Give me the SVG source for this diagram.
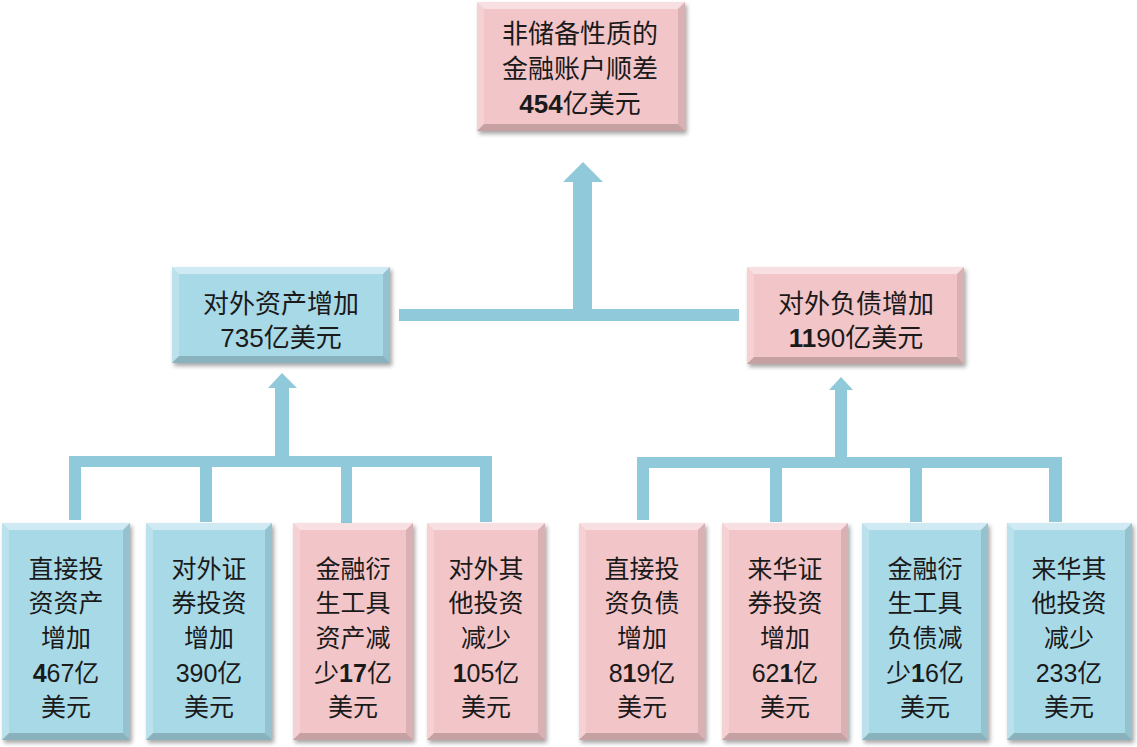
<svg xmlns="http://www.w3.org/2000/svg" width="1137" height="747" viewBox="0 0 1137 747">
<defs>
<filter id="sh" x="-10%" y="-10%" width="130%" height="130%">
<feDropShadow dx="2" dy="3" stdDeviation="2" flood-color="#000" flood-opacity="0.35"/>
</filter>
<style>
.blue{fill:#a8d9e7}
.pink{fill:#f2c5c8}
.hl{fill:#fff;fill-opacity:0.45}
.hs{fill:#fff;fill-opacity:0.22}
.dr{fill:#000;fill-opacity:0.10}
.db{fill:#000;fill-opacity:0.18}
.c{fill:#8fc9da}
text{font-family:"Liberation Sans","Noto Sans CJK SC",sans-serif;fill:#1a1a1a;text-anchor:middle}
.t26{font-size:26px}
.t25{font-size:25px}
.b{font-weight:bold}
</style>
</defs>
<rect width="1137" height="747" fill="#fff"/>

<g id="connectors">
<!-- top tree -->
<rect class="c" x="399" y="309" width="340" height="12"/>
<rect class="c" x="573" y="180" width="19" height="135"/>
<polygon class="c" points="563,182 583,162 603,182"/>
<!-- left tree -->
<rect class="c" x="69" y="456" width="423" height="11"/>
<rect class="c" x="69" y="456" width="12" height="64"/>
<rect class="c" x="200" y="456" width="12" height="66"/>
<rect class="c" x="341" y="456" width="11" height="68"/>
<rect class="c" x="480" y="456" width="12" height="66"/>
<rect class="c" x="275" y="386" width="14" height="75"/>
<polygon class="c" points="268,388 282,373 297,388"/>
<!-- right tree -->
<rect class="c" x="637" y="457" width="425" height="11"/>
<rect class="c" x="637" y="457" width="12" height="63"/>
<rect class="c" x="770" y="457" width="12" height="65"/>
<rect class="c" x="910" y="457" width="12" height="65"/>
<rect class="c" x="1049" y="457" width="13" height="65"/>
<rect class="c" x="835" y="388" width="12" height="74"/>
<polygon class="c" points="829,390 841,377 853,390"/>
</g>

<g id="top">
<rect class="pink" x="477" y="2" width="208" height="129" filter="url(#sh)"/>
<path class="hl" d="M477,2 h208 l-7,7 h-194 z"/>
<path class="hs" d="M477,2 l7,7 v115 l-7,7 z"/>
<path class="dr" d="M685,2 v129 l-7,-7 v-115 z"/>
<path class="db" d="M477,131 h208 l-7,-7 h-194 z"/>
<text class="t26"><tspan x="580" y="43">非储备性质的</tspan><tspan x="580" y="78">金融账户顺差</tspan><tspan x="580" y="113"><tspan class="b">454</tspan>亿美元</tspan></text>
</g>

<g id="assets">
<rect class="blue" x="172" y="267" width="218" height="96" filter="url(#sh)"/>
<path class="hl" d="M172,267 h218 l-7,7 h-204 z"/>
<path class="hs" d="M172,267 l7,7 v82 l-7,7 z"/>
<path class="dr" d="M390,267 v96 l-7,-7 v-82 z"/>
<path class="db" d="M172,363 h218 l-7,-7 h-204 z"/>
<text class="t26"><tspan x="281" y="313">对外资产增加</tspan><tspan x="281" y="347">735亿美元</tspan></text>
</g>

<g id="liabilities">
<rect class="pink" x="747" y="267" width="217" height="97" filter="url(#sh)"/>
<path class="hl" d="M747,267 h217 l-7,7 h-203 z"/>
<path class="hs" d="M747,267 l7,7 v83 l-7,7 z"/>
<path class="dr" d="M964,267 v97 l-7,-7 v-83 z"/>
<path class="db" d="M747,364 h217 l-7,-7 h-203 z"/>
<text class="t26"><tspan x="856" y="313">对外负债增加</tspan><tspan x="856" y="347"><tspan class="b">11</tspan>90亿美元</tspan></text>
</g>

<g id="b1">
<rect class="blue" x="2" y="523" width="128" height="217" filter="url(#sh)"/>
<path class="hl" d="M2,523 h128 l-7,7 h-114 z"/>
<path class="hs" d="M2,523 l7,7 v203 l-7,7 z"/>
<path class="dr" d="M130,523 v217 l-7,-7 v-203 z"/>
<path class="db" d="M2,740 h128 l-7,-7 h-114 z"/>
<text class="t25"><tspan x="66" y="578">直接投</tspan><tspan x="66" y="612">资资产</tspan><tspan x="66" y="647">增加</tspan><tspan x="66" y="682"><tspan class="b">4</tspan>67亿</tspan><tspan x="66" y="716">美元</tspan></text>
</g>

<g id="b2">
<rect class="blue" x="146" y="523" width="126" height="217" filter="url(#sh)"/>
<path class="hl" d="M146,523 h126 l-7,7 h-112 z"/>
<path class="hs" d="M146,523 l7,7 v203 l-7,7 z"/>
<path class="dr" d="M272,523 v217 l-7,-7 v-203 z"/>
<path class="db" d="M146,740 h126 l-7,-7 h-112 z"/>
<text class="t25"><tspan x="209" y="578">对外证</tspan><tspan x="209" y="612">券投资</tspan><tspan x="209" y="647">增加</tspan><tspan x="209" y="682">390亿</tspan><tspan x="209" y="716">美元</tspan></text>
</g>

<g id="b3">
<rect class="pink" x="293" y="523" width="120" height="217" filter="url(#sh)"/>
<path class="hl" d="M293,523 h120 l-7,7 h-106 z"/>
<path class="hs" d="M293,523 l7,7 v203 l-7,7 z"/>
<path class="dr" d="M413,523 v217 l-7,-7 v-203 z"/>
<path class="db" d="M293,740 h120 l-7,-7 h-106 z"/>
<text class="t25"><tspan x="353" y="578">金融衍</tspan><tspan x="353" y="612">生工具</tspan><tspan x="353" y="647">资产减</tspan><tspan x="353" y="682">少<tspan class="b">17</tspan>亿</tspan><tspan x="353" y="716">美元</tspan></text>
</g>

<g id="b4">
<rect class="pink" x="427" y="523" width="118" height="217" filter="url(#sh)"/>
<path class="hl" d="M427,523 h118 l-7,7 h-104 z"/>
<path class="hs" d="M427,523 l7,7 v203 l-7,7 z"/>
<path class="dr" d="M545,523 v217 l-7,-7 v-203 z"/>
<path class="db" d="M427,740 h118 l-7,-7 h-104 z"/>
<text class="t25"><tspan x="486" y="578">对外其</tspan><tspan x="486" y="612">他投资</tspan><tspan x="486" y="647">减少</tspan><tspan x="486" y="682"><tspan class="b">1</tspan>05亿</tspan><tspan x="486" y="716">美元</tspan></text>
</g>

<g id="b5">
<rect class="pink" x="579" y="523" width="126" height="217" filter="url(#sh)"/>
<path class="hl" d="M579,523 h126 l-7,7 h-112 z"/>
<path class="hs" d="M579,523 l7,7 v203 l-7,7 z"/>
<path class="dr" d="M705,523 v217 l-7,-7 v-203 z"/>
<path class="db" d="M579,740 h126 l-7,-7 h-112 z"/>
<text class="t25"><tspan x="642" y="578">直接投</tspan><tspan x="642" y="612">资负债</tspan><tspan x="642" y="647">增加</tspan><tspan x="642" y="682">8<tspan class="b">1</tspan>9亿</tspan><tspan x="642" y="716">美元</tspan></text>
</g>

<g id="b6">
<rect class="pink" x="722" y="523" width="126" height="217" filter="url(#sh)"/>
<path class="hl" d="M722,523 h126 l-7,7 h-112 z"/>
<path class="hs" d="M722,523 l7,7 v203 l-7,7 z"/>
<path class="dr" d="M848,523 v217 l-7,-7 v-203 z"/>
<path class="db" d="M722,740 h126 l-7,-7 h-112 z"/>
<text class="t25"><tspan x="785" y="578">来华证</tspan><tspan x="785" y="612">券投资</tspan><tspan x="785" y="647">增加</tspan><tspan x="785" y="682">62<tspan class="b">1</tspan>亿</tspan><tspan x="785" y="716">美元</tspan></text>
</g>

<g id="b7">
<rect class="blue" x="862" y="523" width="126" height="217" filter="url(#sh)"/>
<path class="hl" d="M862,523 h126 l-7,7 h-112 z"/>
<path class="hs" d="M862,523 l7,7 v203 l-7,7 z"/>
<path class="dr" d="M988,523 v217 l-7,-7 v-203 z"/>
<path class="db" d="M862,740 h126 l-7,-7 h-112 z"/>
<text class="t25"><tspan x="925" y="578">金融衍</tspan><tspan x="925" y="612">生工具</tspan><tspan x="925" y="647">负债减</tspan><tspan x="925" y="682">少<tspan class="b">1</tspan>6亿</tspan><tspan x="925" y="716">美元</tspan></text>
</g>

<g id="b8">
<rect class="blue" x="1007" y="523" width="125" height="217" filter="url(#sh)"/>
<path class="hl" d="M1007,523 h125 l-7,7 h-111 z"/>
<path class="hs" d="M1007,523 l7,7 v203 l-7,7 z"/>
<path class="dr" d="M1132,523 v217 l-7,-7 v-203 z"/>
<path class="db" d="M1007,740 h125 l-7,-7 h-111 z"/>
<text class="t25"><tspan x="1069" y="578">来华其</tspan><tspan x="1069" y="612">他投资</tspan><tspan x="1069" y="647">减少</tspan><tspan x="1069" y="682">233亿</tspan><tspan x="1069" y="716">美元</tspan></text>
</g>
</svg>
